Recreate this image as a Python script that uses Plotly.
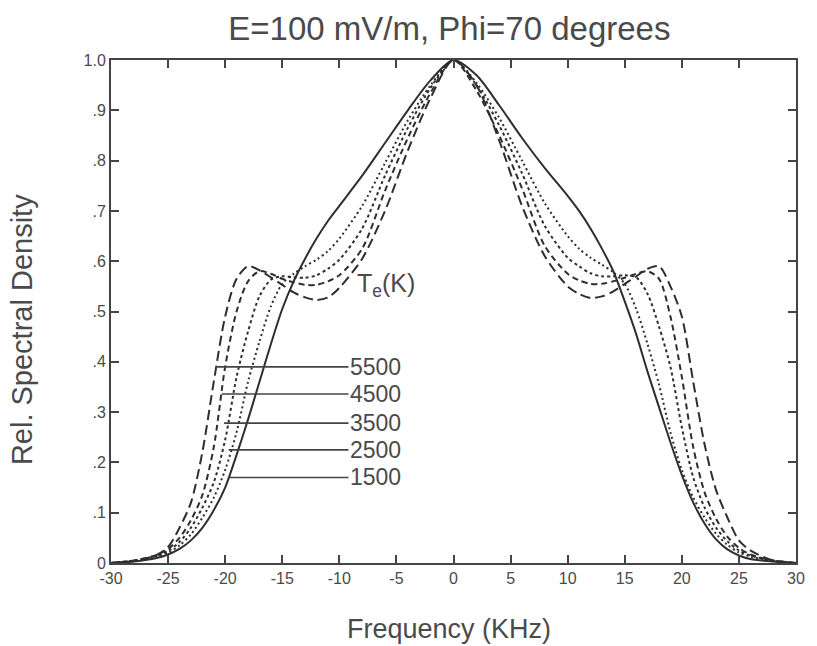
import plotly.graph_objects as go

# ---- data ----
freq = [-30, -28, -26, -25, -24, -23, -22, -21, -20, -19, -18, -17, -16, -15, -14, -13, -12, -11, -10,
        -8, -6, -4, -2, 0, 2, 4, 6, 8, 10, 11, 12, 13, 14, 15, 16, 17, 18, 19, 20, 21, 22, 23, 24, 25,
        26, 28, 30]

te1500 = [0.0, 0.003, 0.01, 0.017, 0.028, 0.045, 0.07, 0.105, 0.15, 0.215, 0.285, 0.36, 0.435, 0.505,
          0.56, 0.605, 0.645, 0.68, 0.71, 0.77, 0.835, 0.9, 0.96, 1.0,
          0.97, 0.91, 0.845, 0.785, 0.73, 0.70, 0.665, 0.625, 0.58, 0.52, 0.455, 0.38, 0.31, 0.24,
          0.175, 0.12, 0.078, 0.047, 0.027, 0.015, 0.008, 0.003, 0.0]
te2500 = [0.0, 0.004, 0.012, 0.02, 0.035, 0.057, 0.09, 0.13, 0.185, 0.26, 0.36, 0.44, 0.51, 0.555,
          0.575, 0.59, 0.603, 0.62, 0.645, 0.71, 0.795, 0.88, 0.95, 1.0,
          0.955, 0.885, 0.80, 0.715, 0.65, 0.625, 0.607, 0.593, 0.578, 0.555, 0.505, 0.435, 0.355,
          0.26, 0.185, 0.13, 0.09, 0.058, 0.036, 0.021, 0.013, 0.004, 0.0]
te3500 = [0.0, 0.005, 0.014, 0.024, 0.042, 0.07, 0.11, 0.16, 0.245, 0.37, 0.46, 0.53, 0.563, 0.57,
          0.568, 0.567, 0.572, 0.585, 0.603, 0.665, 0.77, 0.865, 0.945, 1.0,
          0.95, 0.87, 0.775, 0.67, 0.607, 0.59, 0.576, 0.57, 0.57, 0.572, 0.568, 0.535, 0.47, 0.39,
          0.27, 0.17, 0.11, 0.07, 0.043, 0.025, 0.015, 0.005, 0.0]
te4500 = [0.0, 0.005, 0.016, 0.028, 0.05, 0.085, 0.135, 0.23, 0.39, 0.5, 0.56, 0.58, 0.575, 0.565,
          0.558, 0.553, 0.553, 0.56, 0.572, 0.625, 0.74, 0.845, 0.935, 1.0,
          0.94, 0.85, 0.745, 0.63, 0.575, 0.562, 0.555, 0.555, 0.56, 0.567, 0.575, 0.58, 0.565, 0.49,
          0.37, 0.23, 0.14, 0.088, 0.052, 0.03, 0.017, 0.005, 0.0]
te5500 = [0.0, 0.004, 0.016, 0.032, 0.07, 0.12, 0.22, 0.36, 0.49, 0.565, 0.59, 0.582, 0.568, 0.553,
          0.538, 0.528, 0.523, 0.528, 0.547, 0.605, 0.70, 0.82, 0.925, 1.0,
          0.95, 0.84, 0.71, 0.61, 0.55, 0.535, 0.527, 0.53, 0.54, 0.555, 0.57, 0.585, 0.59, 0.55,
          0.49, 0.36, 0.235, 0.145, 0.09, 0.045, 0.025, 0.005, 0.0]

series_names = ["1500", "2500", "3500", "4500", "5500"]
series_values = [te1500, te2500, te3500, te4500, te5500]
series_dash = ["solid", "2px,3px", "3px,3px", "6px,4px", "10px,5px"]

# leader lines for labels (label text, level, start freq on curve, end freq)
label_text = ["5500", "4500", "3500", "2500", "1500"]
label_level = [0.39, 0.336, 0.278, 0.225, 0.17]
label_start = [-20.8, -20.3, -20.1, -19.7, -19.6]
label_end = -9.2

x_ticks = [-30, -25, -20, -15, -10, -5, 0, 5, 10, 15, 20, 25, 30]
x_ticktext = ["-30", "-25", "-20", "-15", "-10", "-5", "0", "5", "10", "15", "20", "25", "30"]
y_ticks = [0, 0.1, 0.2, 0.3, 0.4, 0.5, 0.6, 0.7, 0.8, 0.9, 1.0]
y_ticktext = ["0", ".1", ".2", ".3", ".4", ".5", ".6", ".7", ".8", ".9", "1.0"]

FONT = "Liberation Sans, Arial, sans-serif"
LINE = "#2e2e2e"
TXT = "#4a4a4a"

fig = go.Figure()
for name, vals, dash in zip(series_names, series_values, series_dash):
    fig.add_trace(go.Scatter(x=freq, y=vals, mode="lines", name=name,
                             line=dict(color=LINE, width=2.0, dash=dash, shape="spline", smoothing=0.8),
                             showlegend=False, hoverinfo="skip"))

for t, lv, x0 in zip(label_text, label_level, label_start):
    fig.add_trace(go.Scatter(x=[x0, label_end], y=[lv, lv], mode="lines",
                             line=dict(color="#444444", width=1.6), showlegend=False, hoverinfo="skip"))
    fig.add_annotation(x=label_end, y=lv, text=t, showarrow=False, xanchor="left", yanchor="middle",
                       xshift=0, font=dict(family=FONT, size=23, color=TXT))

fig.add_annotation(x=-5.9, y=0.553, text="T<sub>e</sub>(K)", showarrow=False,
                   xanchor="center", yanchor="middle", font=dict(family=FONT, size=25, color=TXT))

# axis titles
fig.add_annotation(xref="paper", yref="paper", x=0.494, y=0, yshift=-66, text="Frequency (KHz)",
                   showarrow=False, xanchor="center", yanchor="middle",
                   font=dict(family=FONT, size=27, color=TXT))
fig.add_annotation(xref="paper", yref="paper", x=0, xshift=-89, y=0.463, text="Rel. Spectral Density",
                   textangle=-90, showarrow=False, xanchor="center", yanchor="middle",
                   font=dict(family=FONT, size=29, color=TXT))

fig.update_layout(
    width=817, height=646,
    margin=dict(l=111, r=16, t=60, b=83),
    paper_bgcolor="white", plot_bgcolor="white",
    title=dict(text="E=100 mV/m, Phi=70 degrees", x=0.494, xref="paper", xanchor="center",
               y=1 - 28 / 646, yanchor="middle", font=dict(family=FONT, size=33, color=TXT)),
)
fig.update_xaxes(range=[-30, 30], tickvals=x_ticks, ticktext=x_ticktext, ticks="inside", ticklen=8,
                 tickwidth=1.5, tickcolor="#444444", showline=True, linewidth=2, linecolor="#444444",
                 mirror="ticks", showgrid=False, zeroline=False,
                 tickfont=dict(family=FONT, size=16, color=TXT))
fig.update_yaxes(range=[0, 1.0], tickvals=y_ticks, ticktext=y_ticktext, ticks="inside", ticklen=8,
                 tickwidth=1.5, tickcolor="#444444", showline=True, linewidth=2, linecolor="#444444",
                 mirror="ticks", showgrid=False, zeroline=False,
                 tickfont=dict(family=FONT, size=16, color=TXT))

fig.write_html("out.html")
